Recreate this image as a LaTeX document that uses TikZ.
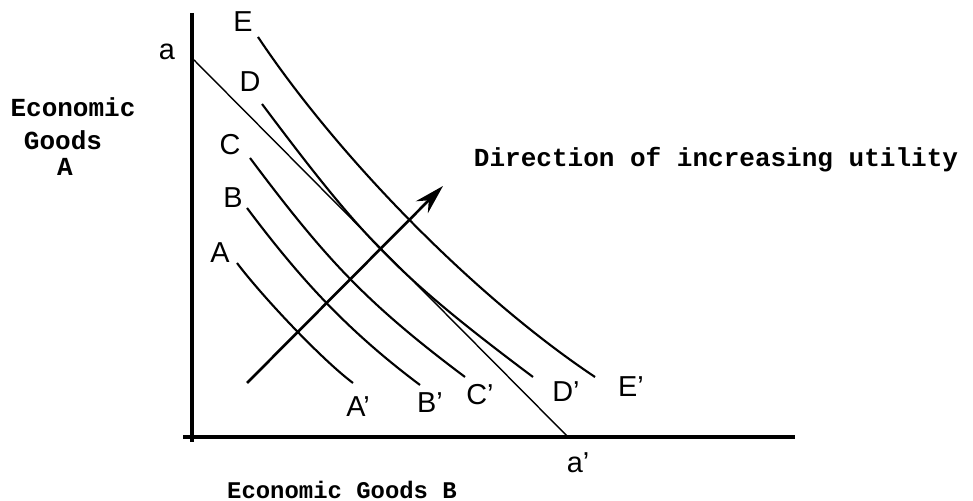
\documentclass[tikz,border=0pt]{standalone}
\usepackage{fontspec}
\setmainfont{Liberation Sans}
\newfontfamily\typewr{Liberation Mono}
\usetikzlibrary{arrows.meta}

\begin{document}
\begin{tikzpicture}[x=0.01cm, y=-0.01cm, >={Stealth[length=8.5pt,width=4.8pt]},
    hand/.style={font=\fontsize{8.2}{9}\selectfont, inner sep=0pt},
    typed/.style={font=\typewr\bfseries\fontsize{7.4}{9}\selectfont, inner sep=0pt},
    indiff/.style={line width=0.6pt}]
    \useasboundingbox (0,0) rectangle (973,501);

    \coordinate (ytop) at (192,13);
    \coordinate (ybot) at (192,442);
    \coordinate (xleft) at (183,437);
    \coordinate (xright) at (795,437);
    \draw[line width=1.1pt] (ytop) -- (ybot);
    \draw[line width=1.1pt] (xleft) -- (xright);

    \coordinate (budgetA) at (194,60);
    \coordinate (budgetB) at (568,437);
    \draw[line width=0.4pt] (budgetA) -- (budgetB);

    \coordinate (As) at (237,263);  \coordinate (Ae) at (353,383);
    \coordinate (Bs) at (247,208);  \coordinate (Be) at (420,385);
    \coordinate (Cs) at (250,158);  \coordinate (Ce) at (465,377);
    \coordinate (Ds) at (262,104);  \coordinate (De) at (533,377);
    \coordinate (Es) at (258,37);   \coordinate (Ee) at (595,377);

    \draw[indiff] (As) .. controls (261,295) and (321,359) .. (Ae);
    \draw[indiff] (Bs) .. controls (301,280) and (348,331) .. (Be);
    \draw[indiff] (Cs) .. controls (325,258) and (365,302) .. (Ce);
    \draw[indiff] (Ds) .. controls (364,240) and (397,275) .. (De);
    \draw[indiff] (Es) .. controls (338,157) and (475,297) .. (Ee);

    \coordinate (dirfrom) at (247,383);
    \coordinate (dirto) at (443,186);
    \draw[->, line width=0.75pt] (dirfrom) -- (dirto);

    \node[hand] (lblE) at (243,22) {E};
    \node[hand] (lblD) at (250,82) {D};
    \node[hand] (lblC) at (230,145) {C};
    \node[hand] (lblB) at (233,198) {B};
    \node[hand] (lblA) at (220,253) {A};
    \node[hand] (lblAp) at (358,407) {A'};
    \node[hand] (lblBp) at (430,403) {B'};
    \node[hand] (lblCp) at (480,395) {C'};
    \node[hand] (lblDp) at (566,392) {D'};
    \node[hand] (lblEp) at (631,387) {E'};
    \node[hand] (lbla) at (167,52) {a};
    \node[hand] (lblap) at (578,463) {a'};

    \node[typed] (goodsA1) at (73,107) {Economic};
    \node[typed] (goodsA2) at (63,140) {Goods};
    \node[typed] (goodsA3) at (65,167) {A};
    \node[typed] (direction) at (716,160) {Direction of increasing utility};
    \node[typed, font=\typewr\bfseries\fontsize{6.8}{9}\selectfont] (goodsB) at (342,490) {Economic Goods B};
\end{tikzpicture}
\end{document}
